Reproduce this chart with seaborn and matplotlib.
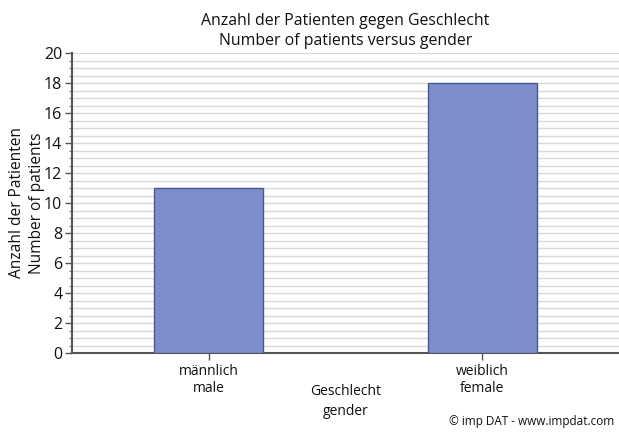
import matplotlib
matplotlib.use("Agg")
import matplotlib.pyplot as plt
import seaborn as sns
import pandas as pd
import numpy as np

categories = ["männlich\nmale", "weiblich\nfemale"]
counts = [11, 18]
yticks = list(range(0, 21, 2))

sns.set_theme(style="white")
plt.rcParams['font.family'] = ['Open Sans', 'DejaVu Sans']

df = pd.DataFrame({"cat": categories, "n": counts})

fig = plt.figure(figsize=(6.19, 4.34), dpi=100)
ax = fig.add_axes([72/619, 1-353/434, (619-72)/619, 300/434])

sns.barplot(data=df, x="cat", y="n", ax=ax, color="#7d8ecb", saturation=1,
            width=0.4, edgecolor="#4a5a90", linewidth=1.0, zorder=3)

ax.set_xlim(-0.5, 1.5)
ax.set_ylim(0, 20)
ax.set_yticks(yticks)
ax.set_yticks(np.arange(0, 20.01, 0.5), minor=True)
ax.yaxis.grid(True, which="both", color="#d8d8d8", linewidth=1.0, zorder=0)
ax.set_axisbelow(True)

for s in ["top", "right"]:
    ax.spines[s].set_visible(False)
ax.spines["left"].set_color("#555555")
ax.spines["left"].set_linewidth(1.5)
ax.spines["bottom"].set_color("#555555")
ax.spines["bottom"].set_linewidth(1.5)

ax.tick_params(axis="y", which="major", left=True, length=5, width=1, color="#555555",
               labelsize=11.5, pad=2, labelcolor="#111111")
ax.tick_params(axis="y", which="minor", left=True, length=2, width=0.8, color="#777777")
ax.tick_params(axis="x", bottom=True, length=5, width=1, color="#555555",
               labelsize=10, pad=3, labelcolor="#111111")

ax.set_xlabel("Geschlecht\ngender", fontsize=10, color="#111111", labelpad=-9,
              linespacing=1.45)
ax.set_ylabel("Anzahl der Patienten\nNumber of patients", fontsize=11.2, color="#111111",
              labelpad=-1, linespacing=1.35)
ax.set_title("Anzahl der Patienten gegen Geschlecht\nNumber of patients versus gender",
             fontsize=11.4, color="#111111", pad=6, linespacing=1.3)

fig.text(614/619, 1-422/434, "© imp DAT - www.impdat.com", ha="right", va="center",
         fontsize=8.5, color="#111111")

fig.savefig("out.png", dpi=100)
